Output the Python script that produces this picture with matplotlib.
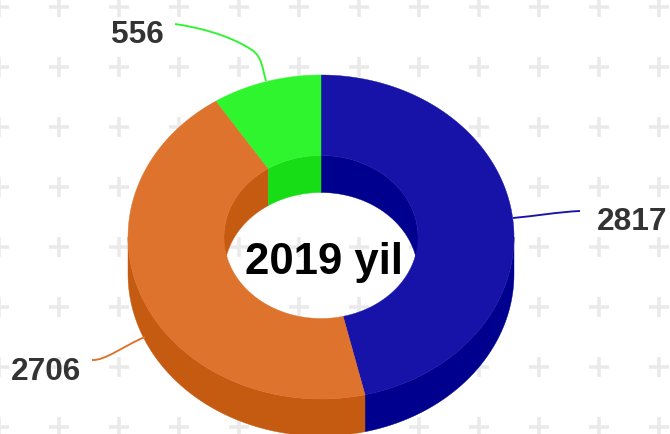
import numpy as np
from matplotlib import pyplot as plt
from matplotlib.patches import Polygon, PathPatch
from matplotlib.path import Path

plt.rcParams['font.family'] = ['Liberation Sans', 'DejaVu Sans']

# данные
values = [2817, 2706, 556]
labels = ['2817', '2706', '556']
top_colors = ['#1713a8', '#de732d', '#2ef52e']
side_colors = ['#00008f', '#c55a11', '#17dd17']
title = '2019 yil'

# геометрия кольца, в пикселях
cx, cy = 321, 238
rx, ry = 193, 162
inner_rx, inner_ry = 97, 81.5
depth = 37

fig = plt.figure(figsize=(6.7, 4.35), dpi=100, facecolor='white')
ax = fig.add_axes([0, 0, 1, 1])
ax.set_xlim(0, 670)
ax.set_ylim(435, 0)
ax.axis('off')

# фон из крестиков
for px in range(-1, 680, 60):
    for py in range(8, 440, 60):
        ax.plot([px - 10, px + 10], [py, py], color='#eaeaea', lw=2.6, solid_capstyle='butt', zorder=1)
        ax.plot([px, px], [py - 10, py + 10], color='#eaeaea', lw=2.6, solid_capstyle='butt', zorder=1)


def arc(a0, a1, a_rx, a_ry, dy=0):
    # углы по часовой стрелке от верхней точки
    t = np.radians(np.linspace(a0, a1, 200))
    return np.column_stack([cx + a_rx * np.sin(t), cy + dy - a_ry * np.cos(t)])


fractions = np.array(values) / sum(values) * 360
ends = np.cumsum(fractions)
starts = ends - fractions

for a0, a1, top, side in zip(starts, ends, top_colors, side_colors):
    # внешняя стенка видна только на нижней половине
    s0, s1 = max(a0, 90), min(a1, 270)
    if s1 > s0:
        pts = np.vstack([arc(s0, s1, rx, ry), arc(s1, s0, rx, ry, depth)])
        ax.add_patch(Polygon(pts, fc=side, ec=side, lw=0.3, zorder=2))
    # внутренняя стенка видна только на верхней половине
    for w0, w1 in [(max(a0, 0), min(a1, 90)), (max(a0, 270), min(a1, 360))]:
        if w1 > w0:
            pts = np.vstack([arc(w0, w1, inner_rx, inner_ry), arc(w1, w0, inner_rx, inner_ry, depth)])
            ax.add_patch(Polygon(pts, fc=side, ec=side, lw=0.3, zorder=2))

for a0, a1, top in zip(starts, ends, top_colors):
    pts = np.vstack([arc(a0, a1, rx, ry), arc(a1, a0, inner_rx, inner_ry)])
    ax.add_patch(Polygon(pts, fc=top, ec=top, lw=0.3, zorder=3))

# выноски
leaders = [
    [(513, 219), (535, 217), (558, 213), (580, 212)],
    [(145, 338), (125, 346), (105, 362), (92, 361)],
    [(266, 82), (262, 68), (262, 58), (252, 51), (228, 35), (195, 28), (175, 25)],
]
leader_codes = [
    [Path.MOVETO, Path.CURVE4, Path.CURVE4, Path.CURVE4],
    [Path.MOVETO, Path.CURVE4, Path.CURVE4, Path.CURVE4],
    [Path.MOVETO, Path.CURVE4, Path.CURVE4, Path.CURVE4, Path.CURVE4, Path.CURVE4, Path.CURVE4],
]
for verts, codes, color in zip(leaders, leader_codes, top_colors):
    ax.add_patch(PathPatch(Path(verts, codes), fc='none', ec=color, lw=1.35, zorder=4))

label_pos = [(632, 230), (46.5, 380), (137.5, 43)]
for text, (lx, ly) in zip(labels, label_pos):
    ax.text(lx, ly, text, fontsize=22.8, fontweight='bold', color='#333333',
            ha='center', va='baseline', zorder=5)

ax.text(324, 274, title, fontsize=31.5, fontweight='bold', color='black',
        ha='center', va='baseline', zorder=5)

plt.savefig('out.png', dpi=100, facecolor='white')
plt.close()
